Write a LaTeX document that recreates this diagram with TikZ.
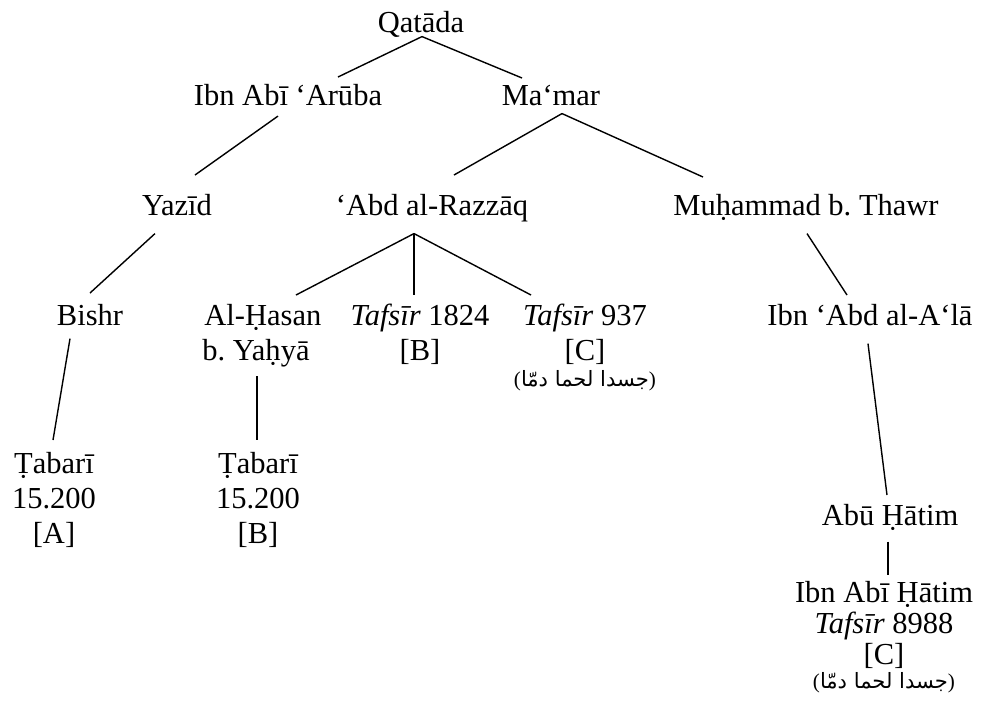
\documentclass[tikz,border=0pt]{standalone}
\usepackage{fontspec}
\setmainfont{Liberation Serif}
\newfontfamily\arabicfont[Script=Arabic]{DejaVu Sans}
\TeXXeTstate=1
\usepackage{tikz}
\usetikzlibrary{positioning,calc}

\frenchspacing
\newcommand{\jasad}{{\fontsize{15}{15}\selectfont ({\arabicfont\beginR جسدا لحما دمّا\endR})}}

\begin{document}
\begin{tikzpicture}[x=0.025cm, y=-0.025cm,
    narr/.style={font=\fontsize{21.7}{24.9}\selectfont, align=center, inner sep=0pt, anchor=north},
    link/.style={line width=1pt}]
    \useasboundingbox (0,0) rectangle (988,700);

    % Narrators
    \node[narr] (qatada) at (421,7.5) {\strut Qatāda};
    \node[narr] (ibnabi) at (288,80.5) {\strut Ibn Abī ‘Arūba};
    \node[narr] (mamar) at (551,80.5) {\strut Ma‘mar};
    \node[narr] (yazid) at (177,190.5) {\strut Yazīd};
    \node[narr] (razzaq) at (432,190.5) {\strut ‘Abd al-Razzāq};
    \node[narr] (thawr) at (806,190.5) {\strut Muḥammad b. Thawr};
    \node[narr] (bishr) at (90,300.5) {\strut Bishr};
    \node[narr] (hasan) at (256,300.5) {\strut\hspace*{0.45em}Al-Ḥasan\\ b. Yaḥyā};
    \node[narr] (ibnabdala) at (870,300.5) {\strut Ibn ‘Abd al-A‘lā};
    \node[narr] (abuhatim) at (890,500.5) {\strut Abū Ḥātim};

    % Sources
    \node[narr] (tafsirb) at (420,300.5) {\strut\textit{Tafsīr} 1824\\ {[B]}};
    \node[narr] (tafsirc) at (585,300.5) {\strut\textit{Tafsīr} 937\\ {[C]}\\[-6pt] \jasad};
    \node[narr] (tabaria) at (54,448.5) {\strut Ṭabarī\\ 15.200\\ {[A]}};
    \node[narr] (tabarib) at (258,448.5) {\strut Ṭabarī\\ 15.200\\ {[B]}};
    \node[narr, font=\fontsize{21.7}{22}\selectfont] (ibnabihatim) at (884,580.3)
        {\strut Ibn Abī Ḥātim\\ \textit{Tafsīr} 8988\\ {[C]}\\[-5pt] \jasad};

    % Links
    \draw[link] ($(qatada.south)+(1,-6.5)$) -- ($(ibnabi.north)+(50,-3.5)$);
    \draw[link] ($(qatada.south)+(1,-6.5)$) -- ($(mamar.north)+(-29,-2.5)$);
    \draw[link] ($(ibnabi.south)+(-10,0)$) -- ($(yazid.north)+(18,-15.5)$);
    \draw[link] ($(mamar.south)+(11,-2.5)$) -- ($(razzaq.north)+(22,-15.5)$);
    \draw[link] ($(mamar.south)+(11,-2.5)$) -- ($(thawr.north)+(-103,-13.5)$);
    \draw[link] ($(yazid.south)+(-22,7.5)$) -- ($(bishr.north)+(0,-7.5)$);
    \foreach \n/\dx in {hasan/40, tafsirb/-6, tafsirc/-54} {
        \draw[link] ($(razzaq.south)+(-18,7.5)$) -- ($(\n.north)+(\dx,-5.5)$);
    }
    \draw[link] ($(thawr.south)+(1,7.5)$) -- ($(ibnabdala.north)+(-23,-5.5)$);
    \draw[link] ($(ibnabdala.south)+(-2,7.5)$) -- ($(abuhatim.north)+(-3,-5.5)$);
    \draw[link] ($(abuhatim.south)+(-2,5.5)$) -- ($(ibnabihatim.north)+(4,-5.5)$);
    \draw[link] ($(bishr.south)+(-20,2.5)$) -- ($(tabaria.north)+(-1,-8.5)$);
    \draw[link] ($(hasan.south)+(1,9)$) -- ($(tabarib.north)+(-1,-8.5)$);
\end{tikzpicture}
\end{document}
